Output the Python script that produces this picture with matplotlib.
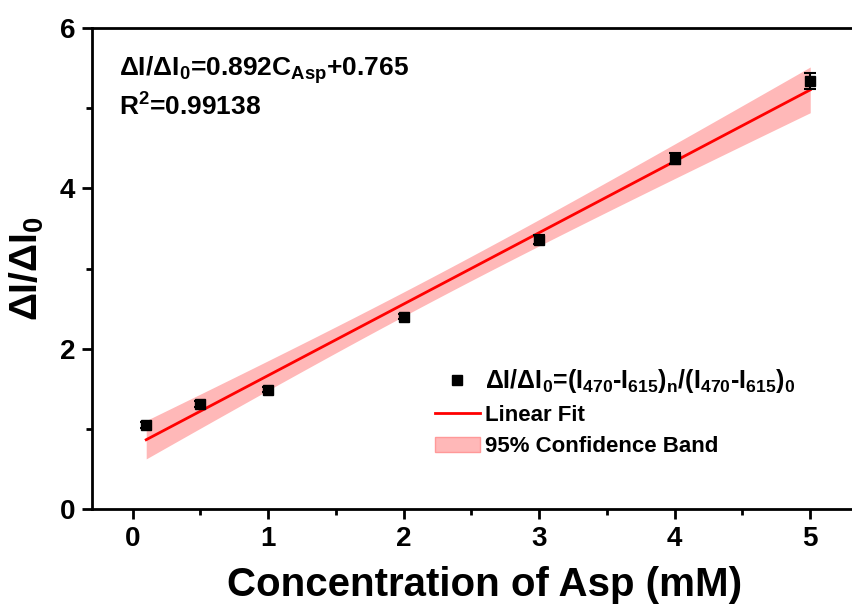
import matplotlib.pyplot as plt
import numpy as np
from matplotlib.patches import Patch
from matplotlib.lines import Line2D

plt.rcParams['font.family'] = ['Liberation Sans', 'DejaVu Sans']
plt.rcParams['font.weight'] = 'bold'
plt.rcParams['mathtext.fontset'] = 'custom'
plt.rcParams['mathtext.rm'] = 'Liberation Sans:bold'
plt.rcParams['mathtext.it'] = 'Liberation Sans:bold'
plt.rcParams['mathtext.bf'] = 'Liberation Sans:bold'
plt.rcParams['mathtext.default'] = 'regular'

# ---------------- Data ----------------
conc = np.array([0.1, 0.5, 1, 2, 3, 4, 5])
ratio = np.array([1.05, 1.31, 1.49, 2.40, 3.36, 4.37, 5.34])
err = np.array([0.04, 0.04, 0.03, 0.03, 0.06, 0.07, 0.10])

# linear fit + 95% confidence band
slope, intercept = np.polyfit(conc, ratio, 1)
xf = np.linspace(conc.min(), conc.max(), 200)
yf = slope * xf + intercept
n = len(conc)
resid = ratio - (slope * conc + intercept)
s = np.sqrt(np.sum(resid ** 2) / (n - 2))
sxx = np.sum((conc - conc.mean()) ** 2)
t95 = 2.571  # t(0.975, 5)
half = t95 * s * np.sqrt(1 / n + (xf - conc.mean()) ** 2 / sxx)

# ---------------- Plotting ----------------
fig = plt.figure(figsize=(8.53, 6.10), dpi=100)
ax = fig.add_axes([92 / 853, 101 / 610, 786 / 853, 481 / 610])

ax.fill_between(xf, yf - half, yf + half, color='#ffb8b8', lw=0)
ax.plot(xf, yf, color='red', lw=2)
ax.errorbar(conc, ratio, yerr=err, fmt='none', ecolor='black', elinewidth=1.5,
            capsize=4, capthick=1.5)
ax.plot(conc, ratio, 's', color='black', markersize=7)

ax.set_xlim(-0.3, 5.5)
ax.set_ylim(0, 6)
ax.set_xticks([0, 1, 2, 3, 4, 5])
ax.set_xticks(np.arange(0.5, 5.5, 1), minor=True)
ax.set_yticks([0, 2, 4, 6])
ax.set_yticks([1, 3, 5], minor=True)
ax.tick_params(which='major', direction='out', length=7, width=2, labelsize=20, pad=5)
ax.tick_params(which='minor', direction='out', length=4, width=2)
for sp in ax.spines.values():
    sp.set_linewidth(2)
ax.spines['right'].set_visible(False)

ax.set_xlabel('Concentration of Asp (mM)', fontsize=29, fontweight='bold', labelpad=10)
ax.set_ylabel('ΔI/ΔI$_0$', fontsize=28, fontweight='bold', labelpad=10)

ax.text(-0.1, 5.48, 'ΔI/ΔI$_0$=0.892C$_{Asp}$+0.765', fontsize=19, fontweight='bold',
        va='center', ha='left')
ax.text(-0.1, 5.02, 'R$^2$=0.99138', fontsize=19, fontweight='bold',
        va='center', ha='left')

handles = [
    Line2D([], [], marker='s', color='black', ls='none', markersize=7),
    Line2D([], [], color='red', lw=2),
    Patch(facecolor='#ffb8b8', edgecolor='#ff9999'),
]
labels = [
    'ΔI/ΔI$_0$=(I$_{470}$-I$_{615}$)$_n$/(I$_{470}$-I$_{615}$)$_0$',
    'Linear Fit',
    '95% Confidence Band',
]
leg = fig.legend(handles, labels, loc='upper left', bbox_to_anchor=(424 / 853, 1 - 356 / 610),
                 frameon=False, fontsize=16, handlelength=2.0, handletextpad=0.25,
                 borderpad=0, labelspacing=0.45)
leg.get_texts()[0].set_fontsize(18)

plt.savefig('out.png', dpi=100)
